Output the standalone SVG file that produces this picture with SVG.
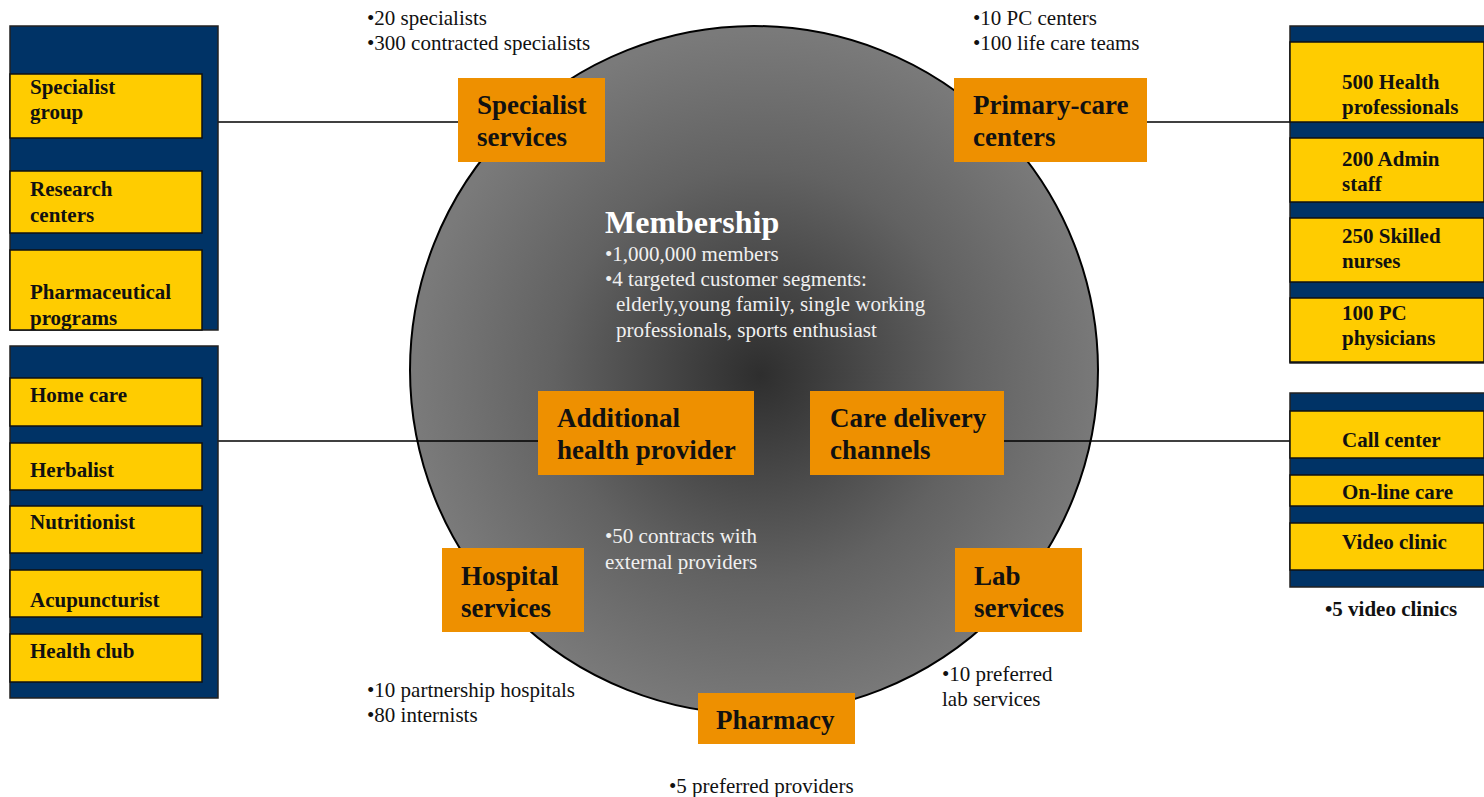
<svg xmlns="http://www.w3.org/2000/svg" width="1484" height="797" viewBox="0 0 1484 797">
<defs>
<radialGradient id="g" cx="760" cy="375" r="344" gradientUnits="userSpaceOnUse">
<stop offset="0" stop-color="#2e2e2e"/>
<stop offset="0.6" stop-color="#626262"/>
<stop offset="1" stop-color="#7a7a7a"/>
</radialGradient>
<style>
.panel{fill:#003366;stroke:#222;stroke-width:1.5}
.ybox{fill:#FFCC00;stroke:#111;stroke-width:1.5}
.obox{fill:#EE9000}
.yt{font-family:"Liberation Serif",serif;font-weight:bold;font-size:21px;fill:#111}
.ot{font-family:"Liberation Serif",serif;font-weight:bold;font-size:27px;fill:#111}
.nt{font-family:"Liberation Serif",serif;font-size:21px;fill:#111}
.wt{font-family:"Liberation Serif",serif;font-size:21px;fill:#f0f0f0}
.line{stroke:#000;stroke-width:1.5;fill:none}
</style>
</defs>
<rect width="1484" height="797" fill="#fff"/>
<g id="membership">
<circle cx="754" cy="370" r="344" fill="url(#g)" stroke="#000" stroke-width="2"/>
<text x="605" y="233" font-family="'Liberation Serif',serif" font-weight="bold" font-size="32" fill="#fff">Membership</text>
<text class="wt" x="605" y="261">•1,000,000 members</text>
<text class="wt" x="605" y="286">•4 targeted customer segments:</text>
<text class="wt" x="616" y="311">elderly,young family, single working</text>
<text class="wt" x="616" y="337">professionals, sports enthusiast</text>
<text class="wt" x="605" y="543">•50 contracts with</text>
<text class="wt" x="605" y="569">external providers</text>
</g>
<g id="connectors">
<line class="line" x1="218" y1="122" x2="458" y2="122"/>
<line class="line" x1="1147" y1="122" x2="1290" y2="122"/>
<line class="line" x1="218" y1="441" x2="538" y2="441"/>
<line class="line" x1="1004" y1="441" x2="1290" y2="441"/>
</g>
<g id="specialist-services">
<rect class="obox" x="458" y="78" width="147" height="84"/>
<text class="ot" x="477" y="114">Specialist</text>
<text class="ot" x="477" y="146">services</text>
<text class="nt" x="367" y="25">•20 specialists</text>
<text class="nt" x="367" y="50">•300 contracted specialists</text>
</g>
<g id="primary-care">
<rect class="obox" x="954" y="78" width="193" height="84"/>
<text class="ot" x="973" y="114">Primary-care</text>
<text class="ot" x="973" y="146">centers</text>
<text class="nt" x="973" y="25">•10 PC centers</text>
<text class="nt" x="973" y="50">•100 life care teams</text>
</g>
<g id="additional-health">
<rect class="obox" x="538" y="391" width="216" height="84"/>
<text class="ot" x="557" y="427">Additional</text>
<text class="ot" x="557" y="459">health provider</text>
</g>
<g id="care-delivery">
<rect class="obox" x="810" y="391" width="194" height="84"/>
<text class="ot" x="830" y="427">Care delivery</text>
<text class="ot" x="830" y="459">channels</text>
</g>
<g id="hospital">
<rect class="obox" x="442" y="548" width="142" height="84"/>
<text class="ot" x="461" y="585">Hospital</text>
<text class="ot" x="461" y="617">services</text>
<text class="nt" x="367" y="697">•10 partnership hospitals</text>
<text class="nt" x="367" y="722">•80 internists</text>
</g>
<g id="lab">
<rect class="obox" x="955" y="548" width="127" height="84"/>
<text class="ot" x="974" y="585">Lab</text>
<text class="ot" x="974" y="617">services</text>
<text class="nt" x="942" y="681">•10 preferred</text>
<text class="nt" x="942" y="706">lab services</text>
</g>
<g id="pharmacy">
<rect class="obox" x="698" y="693" width="157" height="51"/>
<text class="ot" x="716" y="729">Pharmacy</text>
<text class="nt" x="669" y="793">•5 preferred providers</text>
</g>
<g id="left-panel-1">
<rect class="panel" x="10" y="26" width="208" height="304"/>
<rect class="ybox" x="10" y="74" width="192" height="64"/>
<text class="yt" x="30" y="94">Specialist</text>
<text class="yt" x="30" y="119">group</text>
<rect class="ybox" x="10" y="171" width="192" height="62"/>
<text class="yt" x="30" y="196">Research</text>
<text class="yt" x="30" y="222">centers</text>
<rect class="ybox" x="10" y="250" width="192" height="80"/>
<text class="yt" x="30" y="299">Pharmaceutical</text>
<text class="yt" x="30" y="325">programs</text>
</g>
<g id="left-panel-2">
<rect class="panel" x="10" y="346" width="208" height="352"/>
<rect class="ybox" x="10" y="378" width="192" height="48"/>
<text class="yt" x="30" y="402">Home care</text>
<rect class="ybox" x="10" y="443" width="192" height="47"/>
<text class="yt" x="30" y="477">Herbalist</text>
<rect class="ybox" x="10" y="506" width="192" height="47"/>
<text class="yt" x="30" y="529">Nutritionist</text>
<rect class="ybox" x="10" y="570" width="192" height="47"/>
<text class="yt" x="30" y="607">Acupuncturist</text>
<rect class="ybox" x="10" y="634" width="192" height="48"/>
<text class="yt" x="30" y="658">Health club</text>
</g>
<g id="right-panel-1">
<rect class="panel" x="1290" y="26" width="196" height="337"/>
<rect class="ybox" x="1290" y="42" width="194" height="80"/>
<text class="yt" x="1342" y="89">500 Health</text>
<text class="yt" x="1342" y="114">professionals</text>
<rect class="ybox" x="1290" y="138" width="194" height="64"/>
<text class="yt" x="1342" y="166">200 Admin</text>
<text class="yt" x="1342" y="191">staff</text>
<rect class="ybox" x="1290" y="218" width="194" height="64"/>
<text class="yt" x="1342" y="243">250 Skilled</text>
<text class="yt" x="1342" y="268">nurses</text>
<rect class="ybox" x="1290" y="298" width="194" height="64"/>
<text class="yt" x="1342" y="320">100 PC</text>
<text class="yt" x="1342" y="345">physicians</text>
</g>
<g id="right-panel-2">
<rect class="panel" x="1290" y="393" width="196" height="194"/>
<rect class="ybox" x="1290" y="411" width="194" height="47"/>
<text class="yt" x="1342" y="447">Call center</text>
<rect class="ybox" x="1290" y="475" width="194" height="31"/>
<text class="yt" x="1342" y="499">On-line care</text>
<rect class="ybox" x="1290" y="523" width="194" height="47"/>
<text class="yt" x="1342" y="549">Video clinic</text>
<text class="yt" x="1325" y="616">•5 video clinics</text>
</g>
</svg>
